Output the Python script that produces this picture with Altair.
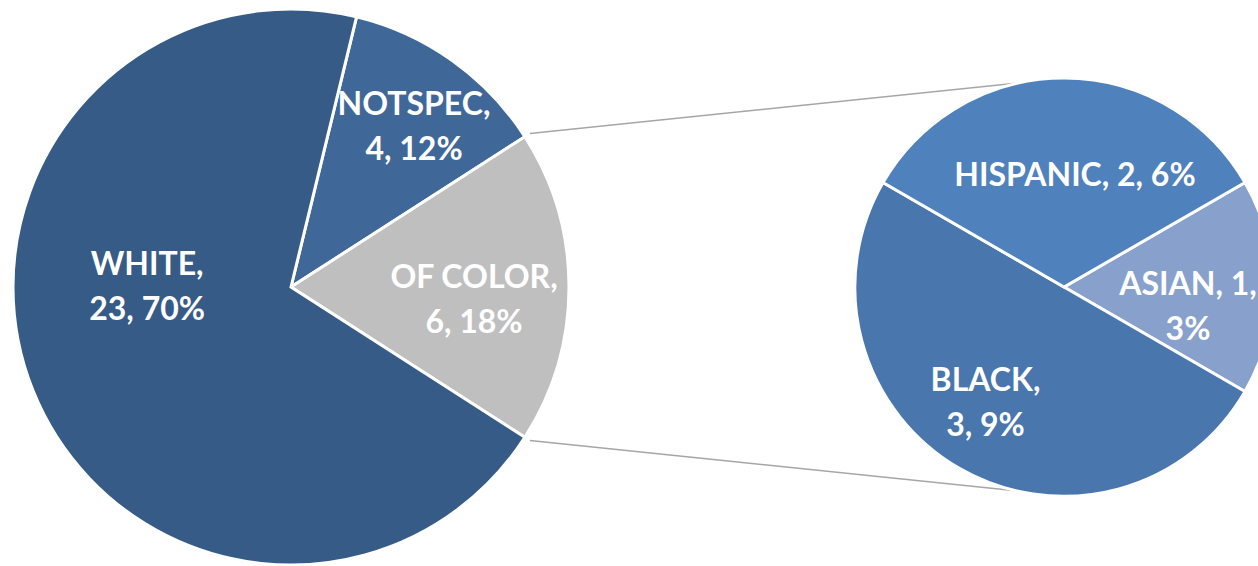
import math
import altair as alt
import pandas as pd

# ---- data ----
main_cats = ["NOTSPEC", "OF COLOR", "WHITE"]
main_vals = [4, 6, 23]
main_labels = ["NOTSPEC,\n4, 12%", "OF COLOR,\n6, 18%", "WHITE,\n23, 70%"]

sub_cats = ["ASIAN", "BLACK", "HISPANIC"]
sub_vals = [1, 3, 2]
sub_labels = ["ASIAN, 1,\n3%", "BLACK,\n3, 9%", "HISPANIC, 2, 6%"]

colors = {
    "WHITE": "#365B86",
    "NOTSPEC": "#3F6899",
    "OF COLOR": "#BFBFBF",
    "HISPANIC": "#4F81BD",
    "BLACK": "#4876AD",
    "ASIAN": "#87A1CC",
}

# ---- geometry ----
W, H = 1258, 566
CX1, CY1, R1 = 291, 287, 278
CX2, CY2, R2 = 1064, 287, 209
tot1 = sum(main_vals)
tot2 = sum(sub_vals)
LH = 45  # line height of labels

# main pie: "OF COLOR" centred at 3 o'clock
of_span = 2 * math.pi * main_vals[1] / tot1
start1 = math.pi / 2 - of_span / 2 - 2 * math.pi * main_vals[0] / tot1
# secondary pie: "ASIAN" centred at 3 o'clock
start2 = math.pi / 2 - math.pi * sub_vals[0] / tot2

main_df = pd.DataFrame({"cat": main_cats, "value": main_vals, "idx": range(3), "label": main_labels})
sub_df = pd.DataFrame({"cat": sub_cats, "value": sub_vals, "idx": range(3), "label": sub_labels})

color_scale = alt.Scale(domain=list(colors.keys()), range=list(colors.values()))


def pie(df, cx, cy, r, start):
    return alt.Chart(df).mark_arc(radius=r, stroke="white", strokeWidth=3).encode(
        theta=alt.Theta("value:Q", stack=True, scale=alt.Scale(range=[start, start + 2 * math.pi])),
        color=alt.Color("cat:N", scale=color_scale, legend=None),
        order=alt.Order("idx:Q", sort="ascending"),
        x=alt.value(cx),
        y=alt.value(cy),
    )


def label(df, cat, cx, cy, start, rad, dx=0, dy=0):
    lines = df.loc[df["cat"] == cat, "label"].iloc[0].count("\n") + 1
    dy = dy - (lines - 1) * LH / 2
    return alt.Chart(df).transform_calculate(
        t=f"datum.cat == '{cat}' ? datum.label : ''"
    ).mark_text(
        radius=rad, dx=dx, dy=dy, font="Lato", fontWeight="bold", fontSize=32,
        color="white", lineBreak="\n", lineHeight=LH, align="center", baseline="middle",
    ).encode(
        theta=alt.Theta("value:Q", stack=True, scale=alt.Scale(range=[start, start + 2 * math.pi])),
        order=alt.Order("idx:Q", sort="ascending"),
        text="t:N",
        x=alt.value(cx),
        y=alt.value(cy),
    )


def pt(cx, cy, r, ang):
    return cx + r * math.sin(ang), cy - r * math.cos(ang)


# connector lines
a_top = start1 + 2 * math.pi * main_vals[0] / tot1
a_bot = a_top + of_span
p1 = pt(CX1, CY1, R1 + 6, a_top)
p2 = pt(CX1, CY1, R1 + 6, a_bot)
q1 = pt(CX2, CY2, R2, math.radians(347.5))
q2 = pt(CX2, CY2, R2, math.radians(192.5))

one = pd.DataFrame({"k": [0]})


def rule(a, b):
    return alt.Chart(one).mark_rule(color="#A6A6A6", strokeWidth=1.5).encode(
        x=alt.value(a[0]), y=alt.value(a[1]), x2=alt.value(b[0]), y2=alt.value(b[1])
    )


layers = [
    rule(p1, q1),
    rule(p2, q2),
    pie(main_df, CX1, CY1, R1, start1),
    pie(sub_df, CX2, CY2, R2, start2),
    label(main_df, "NOTSPEC", CX1, CY1, start1, 200, dx=7, dy=3),
    label(main_df, "OF COLOR", CX1, CY1, start1, 183, dy=13),
    label(main_df, "WHITE", CX1, CY1, start1, 155, dx=0, dy=-57),
    label(sub_df, "ASIAN", CX2, CY2, start2, 124, dy=20),
    label(sub_df, "BLACK", CX2, CY2, start2, 135, dx=-11),
    label(sub_df, "HISPANIC", CX2, CY2, start2, 111, dx=11),
]

chart = alt.layer(*layers).resolve_scale(theta="independent").properties(
    width=W, height=H, padding=0, autosize=alt.AutoSizeParams(type="none"), background="white"
).configure_view(stroke=None)

chart.save("out.html", embed_options={"renderer": "svg", "actions": False})
